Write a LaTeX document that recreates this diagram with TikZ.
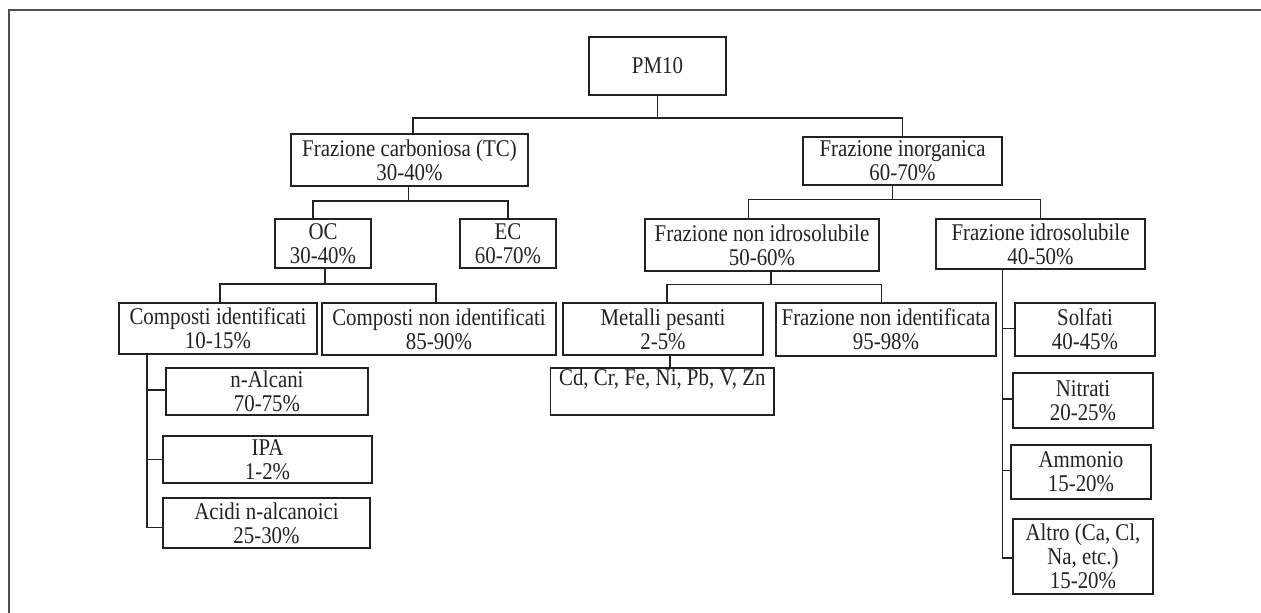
\documentclass[tikz,border=0pt]{standalone}
\usepackage{fontspec}
\setmainfont{Liberation Serif}[FakeStretch=0.87]
\definecolor{ink}{HTML}{222222}
\begin{document}
\begin{tikzpicture}[x=1pt,y=-1pt,
  box/.style={draw=ink, line width=1.6pt, inner sep=0pt, align=center, text=ink,
    font=\fontsize{24}{24}\selectfont},
  link/.style={draw=ink, line width=1.6pt}]
\useasboundingbox (0,0) rectangle (1261,613);
\draw[draw=ink!80, line width=1.6pt] (9,613) -- (9,10) -- (1261,10);
% nodes
\node[box, minimum width=137pt, minimum height=58pt] (pm) at (657.5,66) {PM10};
\node[box, minimum width=237pt, minimum height=52pt] (tc) at (409.5,160) {Frazione carboniosa (TC)\\30-40\%};
\node[box, minimum width=199pt, minimum height=48pt] (ino) at (902.5,161) {Frazione inorganica\\60-70\%};
\node[box, minimum width=95.5pt, minimum height=49pt] (oc) at (323,243.5) {OC\\30-40\%};
\node[box, minimum width=96pt, minimum height=49pt] (ec) at (508,243.5) {EC\\60-70\%};
\node[box, minimum width=234.5pt, minimum height=52pt] (nid) at (762,245) {Frazione non idrosolubile\\50-60\%};
\node[box, minimum width=209pt, minimum height=50pt] (id) at (1040.5,244) {Frazione idrosolubile\\40-50\%};
\node[box, minimum width=198.5pt, minimum height=51pt] (ci) at (218,328.5) {Composti identificati\\10-15\%};
\node[box, minimum width=234.5pt, minimum height=52pt] (cni) at (439,329) {Composti non identificati\\85-90\%};
\node[box, minimum width=200pt, minimum height=52pt] (mp) at (663,329) {Metalli pesanti\\2-5\%};
\node[box, minimum width=220pt, minimum height=53pt] (fni) at (886,329.5) {Frazione non identificata\\95-98\%};
\node[box, minimum width=223.4pt, minimum height=47pt] (cd) at (662.3,391.5) {Cd, Cr, Fe, Ni, Pb, V, Zn\\[-3pt]\strut};
\node[box, minimum width=202pt, minimum height=47pt] (na) at (267,391.5) {n-Alcani\\70-75\%};
\node[box, minimum width=209pt, minimum height=47pt] (ipa) at (267.5,459.5) {IPA\\1-2\%};
\node[box, minimum width=207pt, minimum height=50pt] (ac) at (266.5,523) {Acidi n-alcanoici\\25-30\%};
\node[box, minimum width=140pt, minimum height=53pt] (so) at (1085,329.5) {Solfati\\40-45\%};
\node[box, minimum width=140pt, minimum height=55pt] (ni) at (1083,400.5) {Nitrati\\20-25\%};
\node[box, minimum width=140pt, minimum height=54pt] (am) at (1081,472) {Ammonio\\15-20\%};
\node[box, minimum width=140pt, minimum height=75pt] (al) at (1083,556.5) {Altro (Ca, Cl,\\Na, etc.)\\15-20\%};
% level bars
\coordinate (b1) at (0,117.7);
\coordinate (b2) at (0,201);
\coordinate (b3) at (0,199.3);
\coordinate (b4) at (0,283.7);
\coordinate (b5) at (0,284.3);
% connectors
\draw[link] (pm.south) -- (pm.south |- b1);
\draw[link] ([xshift=3.5pt]tc.north) -- ([xshift=3.5pt]tc.north |- b1) -| (ino.north);
\draw[link] ([xshift=-1pt]tc.south) -- ([xshift=-1pt]tc.south |- b2);
\draw[link] ([xshift=-10pt]oc.north) -- ([xshift=-10pt]oc.north |- b2) -| (ec.north);
\draw[link] ([xshift=-10pt]ino.south) -- ([xshift=-10pt]ino.south |- b3);
\draw[link] ([xshift=-13.4pt]nid.north) -- ([xshift=-13.4pt]nid.north |- b3) -| (id.north);
\draw[link] ([xshift=2pt]oc.south) -- ([xshift=2pt]oc.south |- b4);
\draw[link] ([xshift=2pt]ci.north) -- ([xshift=2pt]ci.north |- b4) -| ([xshift=-3pt]cni.north);
\draw[link] ([xshift=9pt]nid.south) -- ([xshift=9pt]nid.south |- b5);
\draw[link] ([xshift=4pt]mp.north) -- ([xshift=4pt]mp.north |- b5) -| ([xshift=-4.4pt]fni.north);
\draw[link] ([xshift=7pt]mp.south) -- ([xshift=7pt]mp.south |- cd.north);
\draw[link] ([xshift=-71pt]ci.south) |- ([yshift=-4.3pt]ac.west);
\draw[link] ([yshift=1.5pt]na.west) -| ([xshift=-71pt]ci.south);
\draw[link] (ipa.west) -| ([xshift=-71pt]ci.south);
\draw[link] ([xshift=-38pt]id.south) |- ([yshift=-1.5pt]al.west);
\draw[link] ([yshift=1.2pt]so.west) -| ([xshift=-38pt]id.south);
\draw[link] ([yshift=1.8pt]ni.west) -| ([xshift=-38pt]id.south);
\draw[link] ([yshift=1.7pt]am.west) -| ([xshift=-38pt]id.south);
\end{tikzpicture}
\end{document}
